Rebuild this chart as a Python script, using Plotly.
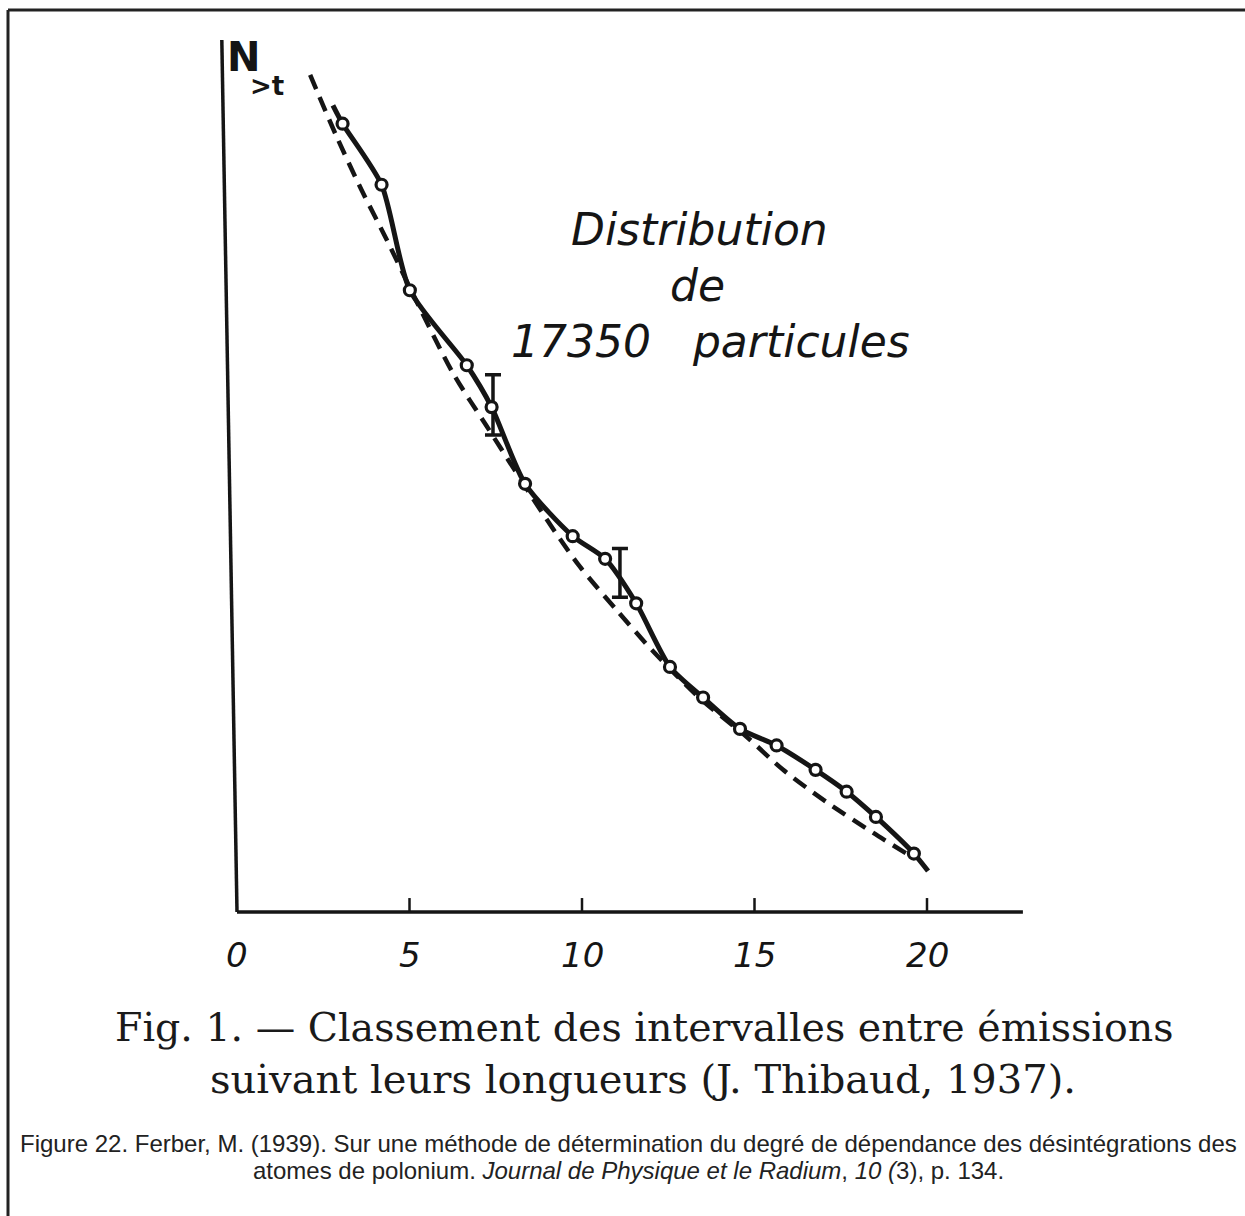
import plotly.graph_objects as go

# ---------------- data (y in arbitrary units, axis top = 100) -------------
T_OBS = [3.06, 4.19, 5.01, 6.66, 7.38, 8.35, 9.73, 10.67, 11.57, 12.55, 13.51, 14.58, 15.64, 16.77, 17.67, 18.52, 19.62]
N_OBS = [90.4, 83.4, 71.3, 62.7, 57.9, 49.1, 43.1, 40.5, 35.4, 28.1, 24.6, 21.0, 19.1, 16.3, 13.8, 10.9, 6.7]

# hand-drawn curve through the points, with its short lead-in and tail
T_CURVE_START, N_CURVE_START = 2.78, 92.5
T_CURVE_END, N_CURVE_END = 20.03, 4.7

# dashed theoretical curve
T_DASH = [2.12, 2.89, 3.61, 4.34, 5.01, 6.26, 7.24, 8.98, 9.94, 11.01, 12.06, 13.42, 14.77, 15.83, 17.09, 18.43, 19.57]
N_DASH = [96.0, 88.9, 82.8, 77.1, 71.6, 61.8, 55.7, 45.0, 39.6, 34.6, 29.9, 24.5, 20.1, 16.3, 12.6, 9.1, 6.3]

# error bars
ERR_T = [7.42, 11.10]
ERR_LOW = [54.7, 36.1]
ERR_HIGH = [61.6, 41.7]

# axes
X_TICKS = [0, 5, 10, 15, 20]
X_TICK_LABELS = ["0", "5", "10", "15", "20"]
X_AXIS_END = 22.78
Y_AXIS_TOP = 100

# ---------------- geometry -------------
W, H = 1245, 1216
X0_PX, PX_PER_T = 237.0, 34.5
Y0_PX, PX_PER_N = 912.0, 8.72
XR = [-X0_PX / PX_PER_T, (W - X0_PX) / PX_PER_T]
YR = [(Y0_PX - H) / PX_PER_N, Y0_PX / PX_PER_N]


def px(x):
    return x / W


def py(y):
    return 1 - y / H


INK = "#151515"
LETTER_FONT = "DejaVu Sans"

fig = go.Figure()

# dashed curve
fig.add_trace(go.Scatter(
    x=T_DASH, y=N_DASH, mode="lines",
    line=dict(color=INK, width=4.5, dash="15px,9px", shape="spline", smoothing=0.8),
    hoverinfo="skip", showlegend=False))

# solid curve
fig.add_trace(go.Scatter(
    x=[T_CURVE_START] + T_OBS + [T_CURVE_END],
    y=[N_CURVE_START] + N_OBS + [N_CURVE_END],
    mode="lines",
    line=dict(color=INK, width=5, shape="spline", smoothing=0.7),
    hoverinfo="skip", showlegend=False))

# error bars
err_mid = [(lo + hi) / 2 for lo, hi in zip(ERR_LOW, ERR_HIGH)]
err_half = [(hi - lo) / 2 for lo, hi in zip(ERR_LOW, ERR_HIGH)]
fig.add_trace(go.Scatter(
    x=ERR_T, y=err_mid, mode="markers",
    marker=dict(size=1, color="rgba(0,0,0,0)"),
    error_y=dict(type="data", array=err_half, symmetric=True, color=INK, thickness=3.5, width=8),
    hoverinfo="skip", showlegend=False))

# observed points (open circles)
fig.add_trace(go.Scatter(
    x=T_OBS, y=N_OBS, mode="markers",
    marker=dict(symbol="circle", size=11, color="white", line=dict(color=INK, width=3.2)),
    hoverinfo="skip", showlegend=False))

shapes = []
# x axis
shapes.append(dict(type="line", xref="x", yref="y", x0=0, y0=0, x1=X_AXIS_END, y1=0,
                   line=dict(color=INK, width=3.5)))
# y axis (slightly skewed as in the scan)
shapes.append(dict(type="line", xref="x", yref="y", x0=0, y0=0, x1=-0.44, y1=Y_AXIS_TOP,
                   line=dict(color=INK, width=3.5)))
# tick marks
for t in X_TICKS[1:]:
    shapes.append(dict(type="line", xref="x", yref="y", x0=t, y0=0, x1=t, y1=1.6,
                       line=dict(color=INK, width=2.5)))
# frame of the scanned figure
shapes.append(dict(type="line", xref="paper", yref="paper", x0=px(8), y0=py(10), x1=px(W), y1=py(10),
                   line=dict(color="#222222", width=3)))
shapes.append(dict(type="line", xref="paper", yref="paper", x0=px(8), y0=py(10), x1=px(8), y1=py(H),
                   line=dict(color="#222222", width=3)))

annotations = []
# tick labels
for t, lab in zip(X_TICKS, X_TICK_LABELS):
    annotations.append(dict(x=t, y=0, xref="x", yref="y", yshift=-43, text=lab, showarrow=False,
                            font=dict(family=LETTER_FONT, size=34, color=INK, style="italic"),
                            xanchor="center", yanchor="middle"))

# y-axis label N_{>t}
annotations.append(dict(x=px(243), y=py(57), xref="paper", yref="paper", text="N", showarrow=False,
                        font=dict(family=LETTER_FONT, size=40, color=INK, weight="bold"),
                        xanchor="center", yanchor="middle"))
annotations.append(dict(x=px(267), y=py(86), xref="paper", yref="paper", text="&gt;t", showarrow=False,
                        font=dict(family=LETTER_FONT, size=26, color=INK, weight="bold"),
                        xanchor="center", yanchor="middle"))

# inset lettering
annotations.append(dict(x=px(699), y=py(229), xref="paper", yref="paper", text="Distribution",
                        showarrow=False, font=dict(family=LETTER_FONT, size=44, color=INK, style="italic"),
                        xanchor="center", yanchor="middle"))
annotations.append(dict(x=px(697), y=py(285), xref="paper", yref="paper", text="de",
                        showarrow=False, font=dict(family=LETTER_FONT, size=44, color=INK, style="italic"),
                        xanchor="center", yanchor="middle"))
annotations.append(dict(x=px(710), y=py(341), xref="paper", yref="paper", text="17350   particules",
                        showarrow=False, font=dict(family=LETTER_FONT, size=44, color=INK, style="italic"),
                        xanchor="center", yanchor="middle"))

# printed caption
SERIF = "DejaVu Serif"
annotations.append(dict(x=px(644), y=py(1027), xref="paper", yref="paper",
                        text="Fig. 1. — Classement des intervalles entre émissions",
                        showarrow=False, font=dict(family=SERIF, size=39.5, color="#1a1a1a"),
                        xanchor="center", yanchor="middle"))
annotations.append(dict(x=px(643), y=py(1079), xref="paper", yref="paper",
                        text="suivant leurs longueurs (J. Thibaud, 1937).",
                        showarrow=False, font=dict(family=SERIF, size=40, color="#1a1a1a"),
                        xanchor="center", yanchor="middle"))

# source note
SANS = "Liberation Sans"
annotations.append(dict(x=px(628), y=py(1143), xref="paper", yref="paper",
                        text="Figure 22. Ferber, M. (1939). Sur une méthode de détermination du degré de dépendance des désintégrations des",
                        showarrow=False, font=dict(family=SANS, size=24, color="#222222"),
                        xanchor="center", yanchor="middle"))
annotations.append(dict(x=px(628), y=py(1170), xref="paper", yref="paper",
                        text="atomes de polonium. <i>Journal de Physique et le Radium</i>, <i>10 (</i>3), p. 134.",
                        showarrow=False, font=dict(family=SANS, size=24, color="#222222"),
                        xanchor="center", yanchor="middle"))

fig.update_layout(
    width=W, height=H,
    margin=dict(l=0, r=0, t=0, b=0),
    paper_bgcolor="white", plot_bgcolor="white",
    xaxis=dict(range=XR, visible=False, fixedrange=True),
    yaxis=dict(range=YR, visible=False, fixedrange=True),
    shapes=shapes, annotations=annotations,
    showlegend=False,
)

fig.write_html("out.html", config={"displayModeBar": False},
               post_script="document.body.style.margin='0px';document.body.style.overflow='hidden';")
